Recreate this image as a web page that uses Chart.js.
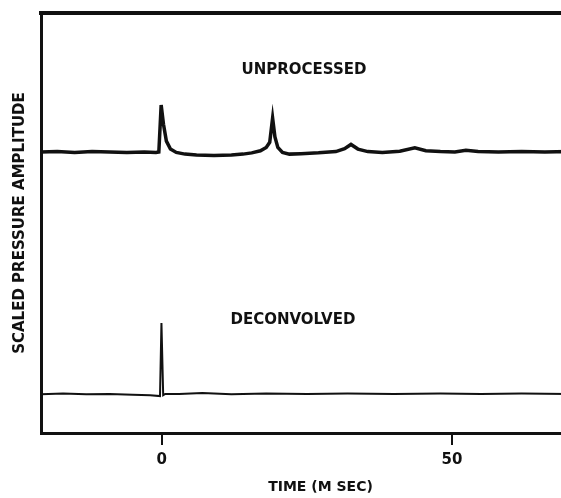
<!DOCTYPE html>
<html>
<head>
<meta charset="utf-8">
<script src="https://cdn.jsdelivr.net/npm/chart.js"></script>
<style>
  html, body { margin: 0; padding: 0; background: #fff; overflow: hidden; }
  #wrap { width: 561px; height: 498px; overflow: hidden; }
</style>
</head>
<body>
<div id="wrap"><canvas id="pulseChart" width="600" height="498"></canvas></div>
<script>
// time axis in ms, amplitudes in arbitrary scaled units (0..10)
const unprocTime = [-21, -18, -15, -12, -9, -6, -3, -1, -0.5, -0.1, 0.3, 0.8, 1.5, 2.5, 4, 6, 9, 12, 14, 15.5, 17, 18, 18.6, 19.1, 19.5, 20, 20.8, 22, 24, 27, 30, 31.5, 32.6, 33.8, 35.5, 38, 41, 43.6, 45.5, 48, 50.5, 52.4, 54.5, 58, 62, 66, 70, 76];
const unprocAmp = [6.69, 6.70, 6.68, 6.70, 6.69, 6.68, 6.69, 6.68, 6.69, 7.81, 7.35, 6.95, 6.76, 6.68, 6.64, 6.62, 6.61, 6.62, 6.64, 6.67, 6.72, 6.80, 6.92, 7.50, 7.05, 6.80, 6.68, 6.64, 6.65, 6.67, 6.70, 6.77, 6.87, 6.76, 6.70, 6.68, 6.71, 6.79, 6.72, 6.70, 6.69, 6.73, 6.70, 6.69, 6.70, 6.69, 6.70, 6.69];

const deconTime = [-21, -17, -13, -9, -5, -2, -0.3, -0.05, 0, 0.25, 0.6, 3, 7, 12, 18, 25, 32, 40, 48, 55, 62, 70, 76];
const deconAmp = [0.92, 0.94, 0.92, 0.93, 0.91, 0.90, 0.88, 2.62, 2.62, 0.90, 0.93, 0.93, 0.95, 0.92, 0.94, 0.93, 0.94, 0.93, 0.94, 0.93, 0.94, 0.93, 0.95];

const xTickValues = [0, 50];

// curve labels placed in data coordinates
const labelTexts = ['UNPROCESSED', 'DECONVOLVED'];
const labelTimes = [24.5, 22.6];
const labelAmps = [8.64, 2.68];

const FONT = '"DejaVu Sans", sans-serif';

const toPoints = (xs, ys) => xs.map((x, i) => ({ x: x, y: ys[i] }));

const whiteBg = {
  id: 'whiteBg',
  beforeDraw(chart) {
    const c = chart.ctx;
    c.save();
    c.fillStyle = '#fff';
    c.fillRect(0, 0, chart.width, chart.height);
    c.restore();
  }
};

const curveLabels = {
  id: 'curveLabels',
  afterDatasetsDraw(chart) {
    const c = chart.ctx;
    const xs = chart.scales.x, ys = chart.scales.y;
    c.save();
    c.fillStyle = '#111';
    c.font = 'bold 15px ' + FONT;
    c.textAlign = 'center';
    c.textBaseline = 'middle';
    labelTexts.forEach((t, i) => {
      c.fillText(t, xs.getPixelForValue(labelTimes[i]), ys.getPixelForValue(labelAmps[i]));
    });
    c.restore();
  }
};

new Chart(document.getElementById('pulseChart').getContext('2d'), {
  type: 'line',
  data: {
    datasets: [{
      label: 'Unprocessed',
      data: toPoints(unprocTime, unprocAmp),
      borderColor: '#111',
      borderWidth: 3.5,
      pointRadius: 0,
      tension: 0
    }, {
      label: 'Deconvolved',
      data: toPoints(deconTime, deconAmp),
      borderColor: '#111',
      borderWidth: 2,
      pointRadius: 0,
      tension: 0
    }]
  },
  options: {
    responsive: false,
    animation: false,
    layout: { padding: 0 },
    plugins: {
      legend: { display: false },
      tooltip: { enabled: false }
    },
    scales: {
      x: {
        type: 'linear',
        position: 'bottom',
        min: -20.8,
        max: 75.5,
        afterBuildTicks: (s) => { s.ticks = xTickValues.map(v => ({ value: v })); },
        afterFit: (s) => { s.height = 65; },
        ticks: {
          color: '#111',
          padding: 6,
          font: { family: FONT, size: 15, weight: 'bold' }
        },
        grid: {
          drawOnChartArea: false,
          tickLength: 12,
          tickColor: '#111',
          lineWidth: 2
        },
        border: { color: '#111', width: 3 },
        title: {
          display: true,
          text: 'TIME (M SEC)',
          color: '#111',
          padding: { top: 0, bottom: 2 },
          font: { family: FONT, size: 14, weight: 'bold' }
        }
      },
      xTop: {
        type: 'linear',
        position: 'top',
        min: -20.8,
        max: 75.5,
        afterFit: (s) => { s.height = 13; },
        ticks: { display: false },
        grid: { display: false },
        border: { color: '#111', width: 4 }
      },
      y: {
        type: 'linear',
        min: 0,
        max: 10,
        afterFit: (s) => { s.width = 41; },
        ticks: { display: false },
        grid: { display: false },
        border: { color: '#111', width: 3 },
        title: {
          display: true,
          text: 'SCALED PRESSURE AMPLITUDE',
          color: '#111',
          padding: { top: 11, bottom: 0 },
          font: { family: FONT, size: 15, weight: 'bold' }
        }
      }
    }
  },
  plugins: [whiteBg, curveLabels]
});
</script>
</body>
</html>
